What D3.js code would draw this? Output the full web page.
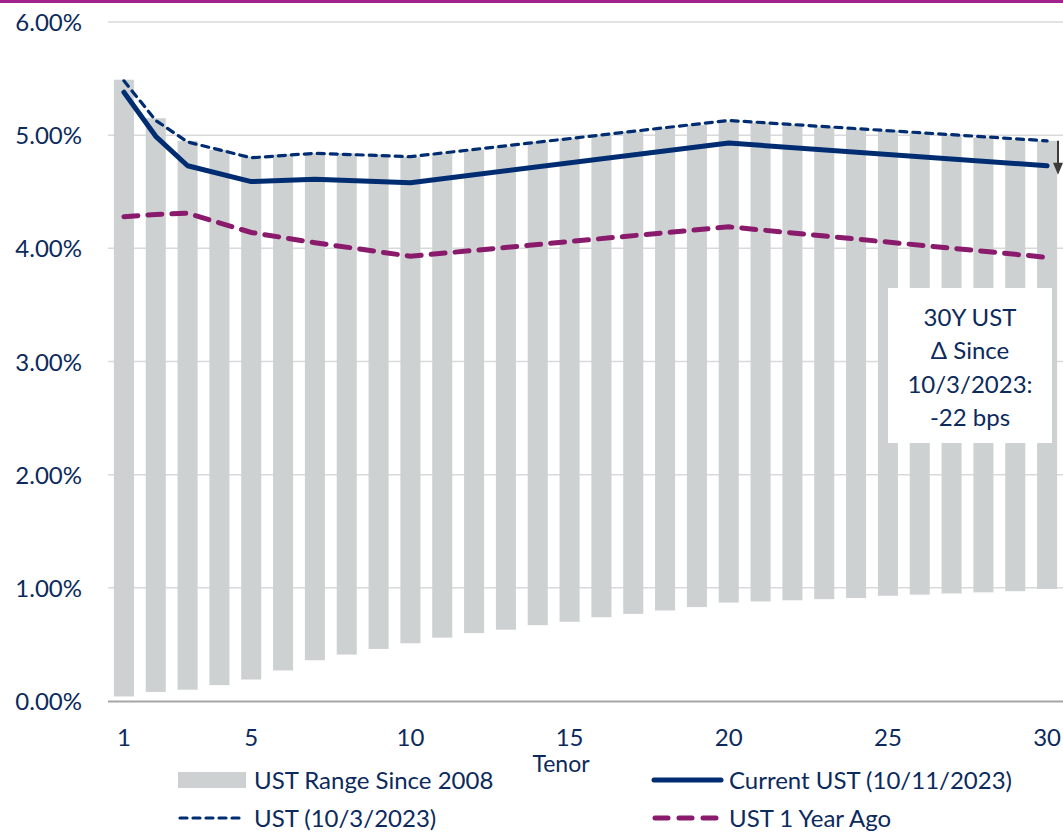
<!DOCTYPE html>
<html>
<head>
<meta charset="utf-8">
<script src="https://cdn.jsdelivr.net/npm/d3@7"></script>
<style>
  html, body { margin: 0; padding: 0; background: #fff; }
  svg { display: block; }
  text { font-family: Lato, "Open Sans", sans-serif; fill: #0c2a5c; }
</style>
</head>
<body>
<svg id="chart" width="1063" height="832"></svg>
<script>
// Treasury tenors (years)
const tenors = d3.range(1, 31);

// UST yield range since 2008, by tenor (%)
const rangeHigh = [5.49, 5.15, 4.95, 4.87, 4.81, 4.83, 4.84, 4.84, 4.83, 4.81,
                   4.84, 4.87, 4.90, 4.94, 4.97, 5.00, 5.03, 5.06, 5.09, 5.12,
                   5.11, 5.09, 5.07, 5.05, 5.04, 5.02, 5.00, 4.98, 4.96, 4.95];
const rangeLow  = [0.04, 0.08, 0.10, 0.14, 0.19, 0.27, 0.36, 0.41, 0.46, 0.51,
                   0.56, 0.60, 0.63, 0.67, 0.70, 0.74, 0.77, 0.80, 0.83, 0.87,
                   0.88, 0.89, 0.90, 0.91, 0.93, 0.94, 0.95, 0.96, 0.97, 0.99];

// Curve points
const curveTenors = [1, 2, 3, 5, 7, 10, 20, 30];
const currentUST  = [5.38, 4.99, 4.73, 4.59, 4.61, 4.58, 4.93, 4.73]; // 10/11/2023
const priorUST    = [5.48, 5.13, 4.94, 4.80, 4.84, 4.81, 5.13, 4.95]; // 10/3/2023
const yearAgoUST  = [4.28, 4.30, 4.31, 4.14, 4.05, 3.93, 4.19, 3.92]; // 1 year ago

const yTicks = [0, 1, 2, 3, 4, 5, 6];
const xTickLabels = [1, 5, 10, 15, 20, 25, 30];

const annotationLines = ["30Y UST", "\u0394 Since", "10/3/2023:", "-22 bps"];

const colors = {
  bar: "#cdd1d2",
  navy: "#002d72",
  purple: "#8a1a6b",
  grid: "#d9d9d9",
  axis: "#a6a6a6",
  accent: "#a3238d",
  arrow: "#3b3b3b"
};

const FONT = "24px";

const svg = d3.select("#chart");
const W = 1063, H = 832;
const plot = { left: 108, right: 1063, top: 22, bottom: 701 };

const x = d3.scaleBand()
  .domain(tenors)
  .range([plot.left, plot.right])
  .paddingInner(0.37)
  .paddingOuter(0.185);
const xc = t => x(t) + x.bandwidth() / 2;

const y = d3.scaleLinear().domain([0, 6]).range([plot.bottom, plot.top]);

// Accent rule along the top edge
svg.append("rect").attr("x", 0).attr("y", 0).attr("width", W).attr("height", 3)
  .attr("fill", colors.accent);

// Horizontal gridlines
svg.append("g")
  .selectAll("line")
  .data(yTicks.filter(d => d > 0))
  .join("line")
  .attr("x1", plot.left).attr("x2", plot.right)
  .attr("y1", d => y(d)).attr("y2", d => y(d))
  .attr("stroke", colors.grid).attr("stroke-width", 1.5);

// Y axis labels
const yAxis = d3.axisLeft(y).tickValues(yTicks).tickFormat(d => d.toFixed(2) + "%").tickSize(0).tickPadding(0);
const yG = svg.append("g").attr("transform", "translate(82,0)").call(yAxis);
yG.select(".domain").remove();
yG.selectAll("text").style("font-size", FONT).attr("fill", "#0c2a5c").attr("dy", "0.36em");

// Range bars
const rangeData = tenors.map((t, i) => ({ t, lo: rangeLow[i], hi: rangeHigh[i] }));
svg.append("g")
  .selectAll("rect")
  .data(rangeData)
  .join("rect")
  .attr("x", d => x(d.t))
  .attr("width", x.bandwidth())
  .attr("y", d => y(d.hi))
  .attr("height", d => y(d.lo) - y(d.hi))
  .attr("fill", colors.bar);

// X axis line
svg.append("line")
  .attr("x1", plot.left).attr("x2", plot.right)
  .attr("y1", plot.bottom + 0.5).attr("y2", plot.bottom + 0.5)
  .attr("stroke", colors.axis).attr("stroke-width", 2);

// X axis labels
const xAxis = d3.axisBottom(x).tickValues(xTickLabels).tickSize(0).tickPadding(0);
const xG = svg.append("g").attr("transform", "translate(0,737)").call(xAxis);
xG.select(".domain").remove();
xG.selectAll("text").style("font-size", FONT).attr("fill", "#0c2a5c").attr("dy", "0.36em");

svg.append("text").attr("x", 561).attr("y", 764).attr("dy", "0.36em")
  .attr("text-anchor", "middle").style("font-size", "23px").text("Tenor");

// Curves
const line = d3.line().x(d => xc(d.t)).y(d => y(d.v));
const toPts = vals => curveTenors.map((t, i) => ({ t, v: vals[i] }));

svg.append("path").datum(toPts(yearAgoUST)).attr("d", line)
  .attr("fill", "none").attr("stroke", colors.purple).attr("stroke-width", 5)
  .attr("stroke-dasharray", "14,10").attr("stroke-linecap", "round");

svg.append("path").datum(toPts(priorUST)).attr("d", line)
  .attr("fill", "none").attr("stroke", colors.navy).attr("stroke-width", 3.2)
  .attr("stroke-dasharray", "7,6").attr("stroke-linecap", "round");

svg.append("path").datum(toPts(currentUST)).attr("d", line)
  .attr("fill", "none").attr("stroke", colors.navy).attr("stroke-width", 5)
  .attr("stroke-linecap", "round").attr("stroke-linejoin", "round");

// Change arrow at the 30Y point
const lastPrior = priorUST[priorUST.length - 1];
const lastCurrent = currentUST[currentUST.length - 1];
const ax = 1058;
const tipY = y(lastCurrent) + 9;
svg.append("line")
  .attr("x1", ax).attr("x2", ax)
  .attr("y1", y(lastPrior)).attr("y2", tipY - 10)
  .attr("stroke", colors.arrow).attr("stroke-width", 2);
svg.append("path")
  .attr("d", `M${ax - 5},${tipY - 12} L${ax + 5},${tipY - 12} L${ax},${tipY} Z`)
  .attr("fill", colors.arrow);

// Annotation box
svg.append("rect").attr("x", 888).attr("y", 288).attr("width", 164).attr("height", 155)
  .attr("fill", "#fff");
svg.append("g").selectAll("text")
  .data(annotationLines)
  .join("text")
  .attr("x", 970)
  .attr("y", (d, i) => 317 + i * 33.5)
  .attr("dy", "0.36em")
  .attr("text-anchor", "middle")
  .style("font-size", FONT)
  .text(d => d);

// Legend
const legend = svg.append("g");
legend.append("rect").attr("x", 178).attr("y", 772).attr("width", 68).attr("height", 16).attr("fill", colors.bar);
legend.append("text").attr("x", 254).attr("y", 780).attr("dy", "0.36em").style("font-size", FONT).text("UST Range Since 2008");

legend.append("line").attr("x1", 180).attr("x2", 245).attr("y1", 818).attr("y2", 818)
  .attr("stroke", colors.navy).attr("stroke-width", 3.2).attr("stroke-dasharray", "7,6").attr("stroke-linecap", "round");
legend.append("text").attr("x", 254).attr("y", 818).attr("dy", "0.36em").style("font-size", FONT).text("UST (10/3/2023)");

legend.append("line").attr("x1", 654).attr("x2", 721).attr("y1", 780).attr("y2", 780)
  .attr("stroke", colors.navy).attr("stroke-width", 5).attr("stroke-linecap", "round");
legend.append("text").attr("x", 729).attr("y", 780).attr("dy", "0.36em").style("font-size", FONT).text("Current UST (10/11/2023)");

legend.append("line").attr("x1", 655).attr("x2", 721).attr("y1", 818).attr("y2", 818)
  .attr("stroke", colors.purple).attr("stroke-width", 5).attr("stroke-dasharray", "13,11").attr("stroke-linecap", "round");
legend.append("text").attr("x", 729).attr("y", 818).attr("dy", "0.36em").style("font-size", FONT).text("UST 1 Year Ago");
</script>
</body>
</html>
